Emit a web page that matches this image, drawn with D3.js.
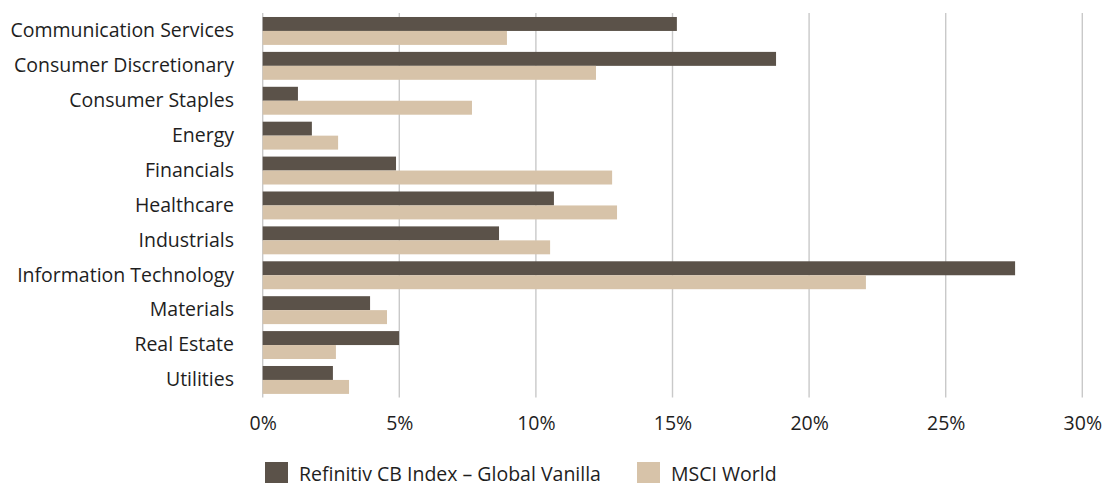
<!DOCTYPE html>
<html>
<head>
<meta charset="utf-8">
<script src="https://cdn.jsdelivr.net/npm/d3@7"></script>
<style>
  html, body { margin: 0; padding: 0; background: #ffffff; }
  svg { display: block; }
  text { font-family: "Open Sans", "DejaVu Sans", sans-serif; fill: #1e1e1e; }
</style>
</head>
<body>
<svg id="chart" width="1106" height="483"></svg>
<script>
// Sector weights (%), convertible index vs. equity benchmark
const sectors = [
  "Communication Services", "Consumer Discretionary", "Consumer Staples", "Energy",
  "Financials", "Healthcare", "Industrials", "Information Technology",
  "Materials", "Real Estate", "Utilities"
];
const seriesNames = ["Refinitiv CB Index – Global Vanilla", "MSCI World"];
const cbIndex   = [15.16, 18.79, 1.29, 1.80, 4.88, 10.66, 8.65, 27.54, 3.93, 4.99, 2.57];
const msciWorld = [8.94, 12.20, 7.66, 2.76, 12.79, 12.97, 10.52, 22.08, 4.55, 2.68, 3.16];
const xTicks = [0, 5, 10, 15, 20, 25, 30];
const colors = ["#5b5249", "#d7c3a9"];

const FONT = "19.5px";
const svg = d3.select("#chart");
const margin = { left: 262.7, right: 23.7, top: 13.5, plotBottom: 397.4 };

const x = d3.scaleLinear().domain([0, 30]).range([margin.left, 1106 - margin.right]);
const y = d3.scaleBand().domain(sectors).range([margin.top, margin.plotBottom])
  .paddingInner(0.2).paddingOuter(0.1);
const ySub = d3.scaleBand().domain([0, 1]).range([0, y.bandwidth()]);

// vertical gridlines
svg.append("g").selectAll("line").data(xTicks).join("line")
  .attr("x1", d => x(d)).attr("x2", d => x(d))
  .attr("y1", margin.top - 0.5).attr("y2", margin.plotBottom)
  .attr("stroke", "#c9c9c9").attr("stroke-width", 1.4);

// bars
const rows = sectors.map((s, i) => ({ s, vals: [cbIndex[i], msciWorld[i]] }));
const g = svg.append("g").selectAll("g").data(rows).join("g")
  .attr("transform", d => `translate(0,${y(d.s)})`);
g.selectAll("rect").data(d => d.vals.map((v, k) => ({ v, k }))).join("rect")
  .attr("x", x(0))
  .attr("y", d => ySub(d.k))
  .attr("width", d => x(d.v) - x(0))
  .attr("height", ySub.bandwidth())
  .attr("fill", d => colors[d.k]);

// category labels
const yAxis = d3.axisLeft(y).tickSize(0).tickPadding(0);
const ya = svg.append("g").attr("transform", `translate(234,0)`).call(yAxis);
ya.select(".domain").remove();
ya.selectAll("text").style("font-size", FONT).attr("fill", "#1e1e1e")
  .style("font-family", "'Open Sans', sans-serif");

// x tick labels
const xAxis = d3.axisBottom(x).tickValues(xTicks).tickFormat(d => d + "%").tickSize(0).tickPadding(0);
const xa = svg.append("g").attr("transform", `translate(0,${416})`).call(xAxis);
xa.select(".domain").remove();
xa.selectAll("text").style("font-size", FONT).attr("fill", "#1e1e1e")
  .style("font-family", "'Open Sans', sans-serif");

// legend
const legendItems = [
  { name: seriesNames[0], x: 265, c: colors[0] },
  { name: seriesNames[1], x: 637, c: colors[1] }
];
const lg = svg.append("g").selectAll("g").data(legendItems).join("g")
  .attr("transform", d => `translate(${d.x},462)`);
lg.append("rect").attr("width", 23).attr("height", 23).attr("fill", d => d.c);
lg.append("text").attr("x", 34).attr("y", 18.5).style("font-size", FONT).text(d => d.name);
</script>
</body>
</html>
